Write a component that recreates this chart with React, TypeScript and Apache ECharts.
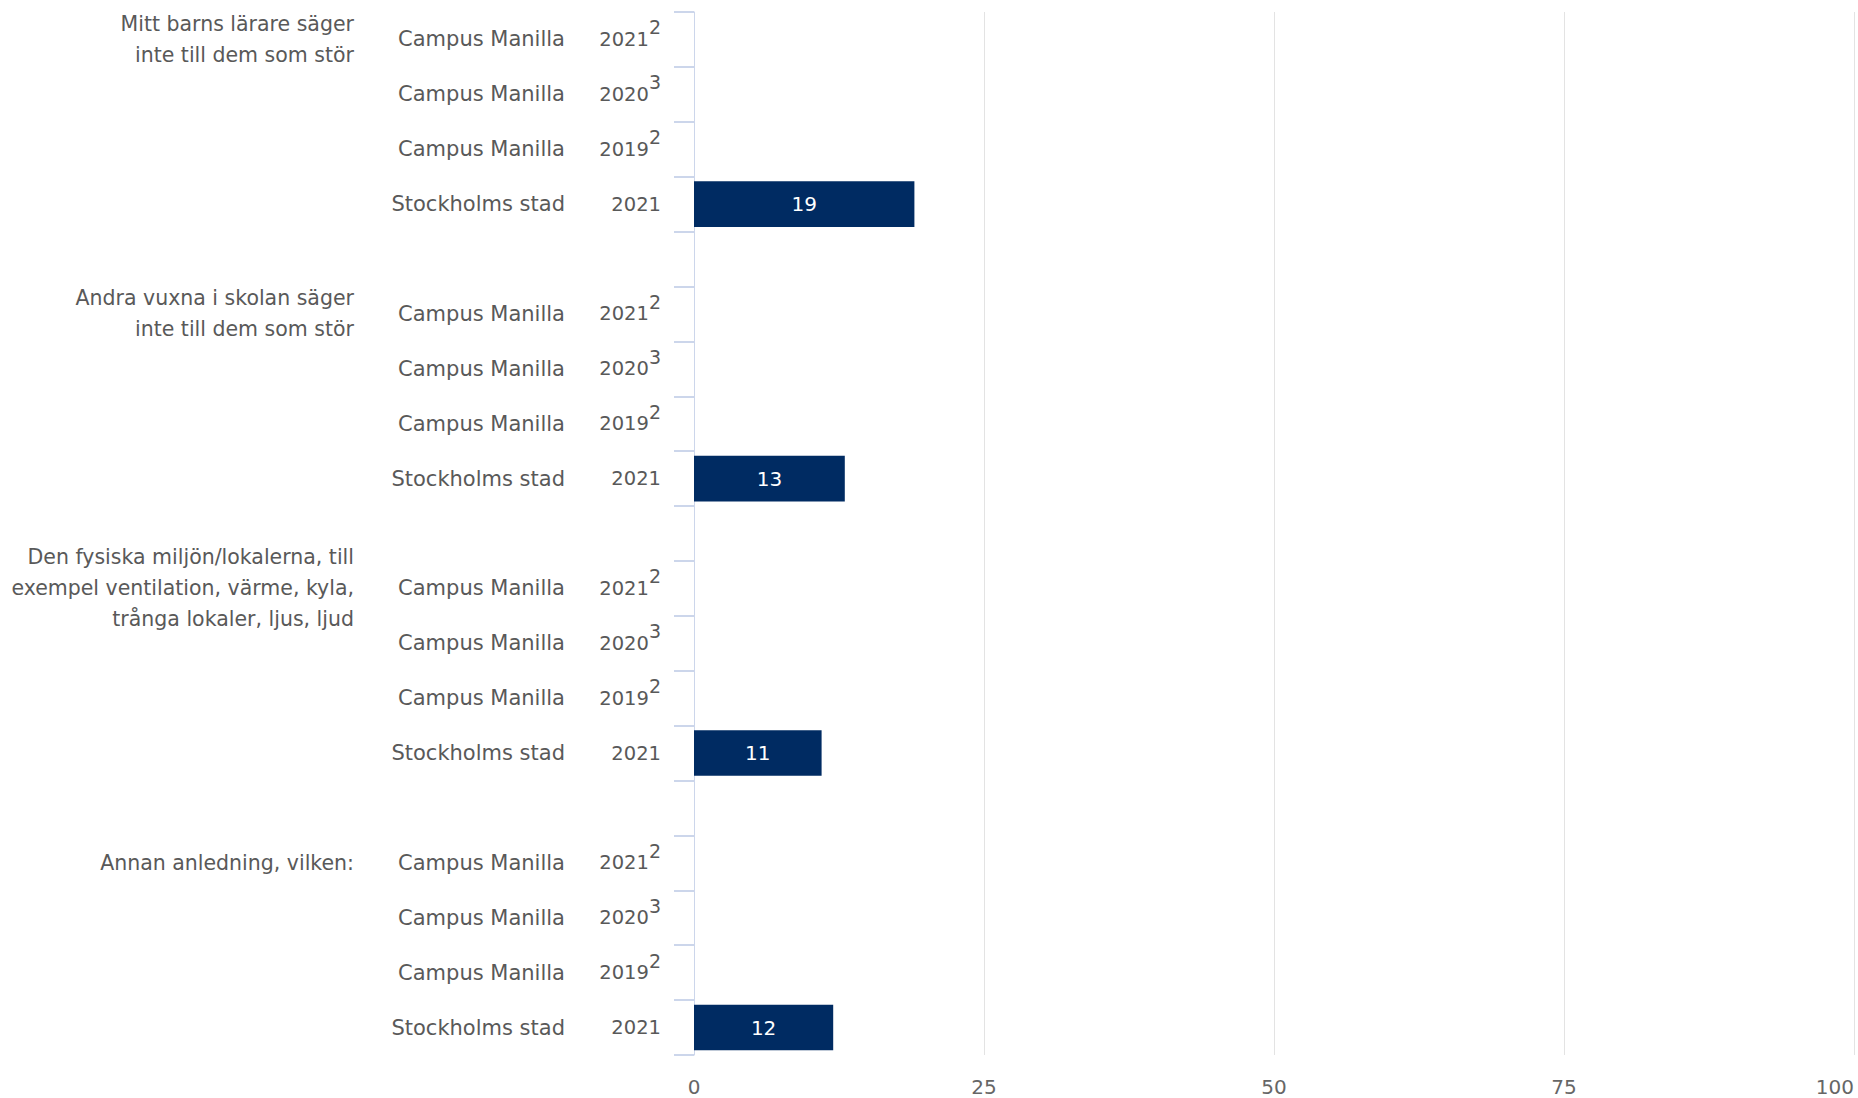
import React, { useEffect, useRef } from "react";
import * as echarts from "echarts";

// ---- Data ----
const groupLabels = [
  "Mitt barns lärare säger\ninte till dem som stör",
  "Andra vuxna i skolan säger\ninte till dem som stör",
  "Den fysiska miljön/lokalerna, till\nexempel ventilation, värme, kyla,\ntrånga lokaler, ljus, ljud",
  "Annan anledning, vilken:",
];
const rowUnits = ["Campus Manilla", "Campus Manilla", "Campus Manilla", "Stockholms stad"];
const rowYears = ["2021", "2020", "2019", "2021"];
const rowFootnotes = ["2", "3", "2", ""];
// values per group (too few answers for Campus Manilla -> no value shown)
const campusManilla2021: (number | null)[] = [null, null, null, null];
const campusManilla2020: (number | null)[] = [null, null, null, null];
const campusManilla2019: (number | null)[] = [null, null, null, null];
const stockholmsStad2021: (number | null)[] = [19, 13, 11, 12];
const xTicks = { min: 0, max: 100, interval: 25 };

const valuesByRow = [campusManilla2021, campusManilla2020, campusManilla2019, stockholmsStad2021];

type Row = { key: string; group: string; unit: string; year: string; sup: string; value: number | null };
const rows: Row[] = [];
groupLabels.forEach((g, gi) => {
  if (gi > 0) rows.push({ key: `gap-${gi}`, group: "", unit: "", year: "", sup: "", value: null });
  rowUnits.forEach((u, ri) => {
    rows.push({
      key: `${gi}-${ri}`,
      group: ri === 0 ? g : "",
      unit: u,
      year: rowYears[ri],
      sup: rowFootnotes[ri],
      value: valuesByRow[ri][gi],
    });
  });
});

const FONT = "DejaVu Sans";
const TEXT = "#595959";
const AXIS = "#ccd6eb";
const BAR = "#002b62";

export default function App() {
  const ref = useRef<HTMLDivElement>(null);
  useEffect(() => {
    if (!ref.current) return;
    const chart = echarts.init(ref.current, undefined, { renderer: "svg" });
    const cats = rows.map((r) => r.key);
    const baseY = {
      type: "category" as const,
      data: cats,
      inverse: true,
      position: "left" as const,
      axisLine: { show: false },
      axisTick: { show: false },
      splitLine: { show: false },
    };
    chart.setOption({
      animation: false,
      textStyle: { fontFamily: FONT },
      grid: { left: 694, right: 4, top: 12, bottom: 43, containLabel: false, outerBoundsMode: "none" },
      xAxis: {
        type: "value",
        min: xTicks.min,
        max: xTicks.max,
        interval: xTicks.interval,
        axisLine: { show: false },
        axisTick: { show: false },
        splitLine: { show: true, lineStyle: { color: "#e3e3e3", width: 1 } },
        axisLabel: {
          color: "#666666",
          fontSize: 20,
          fontFamily: FONT,
          margin: 22,
          alignMaxLabel: "right",
        },
      },
      yAxis: [
        {
          ...baseY,
          axisLine: { show: true, lineStyle: { color: AXIS, width: 1 } },
          axisTick: { show: true, length: 20, lineStyle: { color: AXIS, width: 2 } },
          axisLabel: {
            interval: 0,
            margin: 33,
            fontFamily: FONT,
            formatter: (_v: string, i: number) => {
              const r = rows[i];
              if (!r || !r.year) return "";
              return r.sup ? `{y|${r.year}}{s|${r.sup}}` : `{y|${r.year}}`;
            },
            rich: {
              y: { fontSize: 19.5, lineHeight: 20, color: TEXT, fontFamily: FONT },
              s: { fontSize: 19, lineHeight: 20, color: TEXT, fontFamily: FONT, padding: [0, 0, 24, 0] },
            },
          },
        },
        {
          ...baseY,
          axisLabel: {
            interval: 0,
            margin: 129,
            fontSize: 21,
            color: TEXT,
            fontFamily: FONT,
            formatter: (_v: string, i: number) => (rows[i] ? rows[i].unit : ""),
          },
        },
        {
          ...baseY,
          axisLabel: {
            interval: 0,
            margin: 340,
            fontSize: 20.5,
            lineHeight: 31,
            color: TEXT,
            fontFamily: FONT,
            align: "right",
            formatter: (_v: string, i: number) => (rows[i] ? rows[i].group : ""),
          },
        },
      ],
      series: [
        {
          type: "bar",
          yAxisIndex: 0,
          barCategoryGap: "17%",
          data: rows.map((r) => (r.value == null ? "-" : r.value)),
          itemStyle: { color: BAR },
          label: {
            show: true,
            position: "inside",
            color: "#ffffff",
            fontSize: 20,
            fontFamily: FONT,
          },
        },
      ],
    });
    return () => chart.dispose();
  }, []);
  return (
    <div
      ref={ref}
      style={{ position: "absolute", left: 0, top: 0, width: 1858, height: 1098, background: "#ffffff" }}
    />
  );
}
